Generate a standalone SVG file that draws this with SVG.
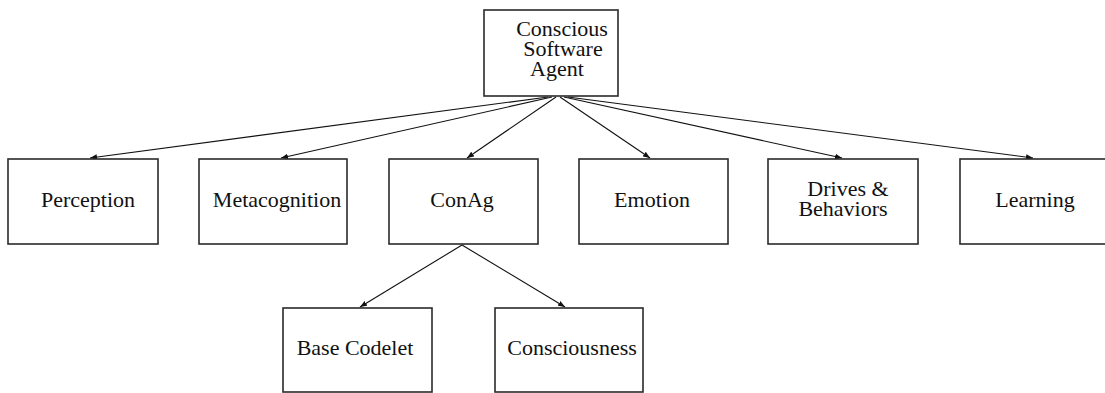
<svg xmlns="http://www.w3.org/2000/svg" width="1105" height="393" viewBox="0 0 1105 393">
  <style>
    .box { fill: #fff; stroke: #2a2a2a; stroke-width: 1.6; }
    .lbl { font-family: "Liberation Serif", "Times New Roman", serif; font-size: 22px; fill: #111; text-anchor: middle; }
    .edge { stroke: #111; stroke-width: 1.1; fill: none; marker-end: url(#head); }
  </style>
  <defs>
    <marker id="head" viewBox="0 0 10 8" refX="10" refY="4" markerWidth="7" markerHeight="5.6" markerUnits="userSpaceOnUse" orient="auto">
      <path d="M0,0 L10,4 L0,8 Z" fill="#111"/>
    </marker>
  </defs>
  <rect width="1105" height="393" fill="#fff"/>

  <g id="connectors">
    <line class="edge" x1="548" y1="97" x2="90" y2="158"/>
    <line class="edge" x1="552" y1="97" x2="281" y2="158"/>
    <line class="edge" x1="556" y1="97" x2="467" y2="158"/>
    <line class="edge" x1="560" y1="97" x2="650" y2="158"/>
    <line class="edge" x1="564" y1="97" x2="842" y2="158"/>
    <line class="edge" x1="568" y1="97" x2="1033" y2="158"/>
    <line class="edge" x1="462" y1="245" x2="360" y2="307"/>
    <line class="edge" x1="462" y1="245" x2="565" y2="307"/>
  </g>

  <g id="conscious-software-agent">
    <rect class="box" x="484" y="10" width="134" height="86"/>
    <text class="lbl" x="562" y="36">Conscious</text>
    <text class="lbl" x="563" y="56">Software</text>
    <text class="lbl" x="557" y="76">Agent</text>
  </g>

  <g id="perception">
    <rect class="box" x="8" y="159" width="150" height="85"/>
    <text class="lbl" x="88" y="207">Perception</text>
  </g>

  <g id="metacognition">
    <rect class="box" x="199" y="159" width="148" height="85"/>
    <text class="lbl" x="277" y="207">Metacognition</text>
  </g>

  <g id="conag">
    <rect class="box" x="389" y="159" width="149" height="85"/>
    <text class="lbl" x="462" y="207">ConAg</text>
  </g>

  <g id="emotion">
    <rect class="box" x="579" y="159" width="149" height="85"/>
    <text class="lbl" x="652" y="207">Emotion</text>
  </g>

  <g id="drives-behaviors">
    <rect class="box" x="768" y="159" width="150" height="85"/>
    <text class="lbl" x="848" y="196">Drives &amp;</text>
    <text class="lbl" x="843" y="216">Behaviors</text>
  </g>

  <g id="learning">
    <rect class="box" x="960" y="159" width="150" height="85"/>
    <text class="lbl" x="1035" y="207">Learning</text>
  </g>

  <g id="base-codelet">
    <rect class="box" x="283" y="308" width="149" height="84"/>
    <text class="lbl" x="355" y="355">Base Codelet</text>
  </g>

  <g id="consciousness">
    <rect class="box" x="495" y="308" width="148" height="84"/>
    <text class="lbl" x="572" y="355">Consciousness</text>
  </g>
</svg>
